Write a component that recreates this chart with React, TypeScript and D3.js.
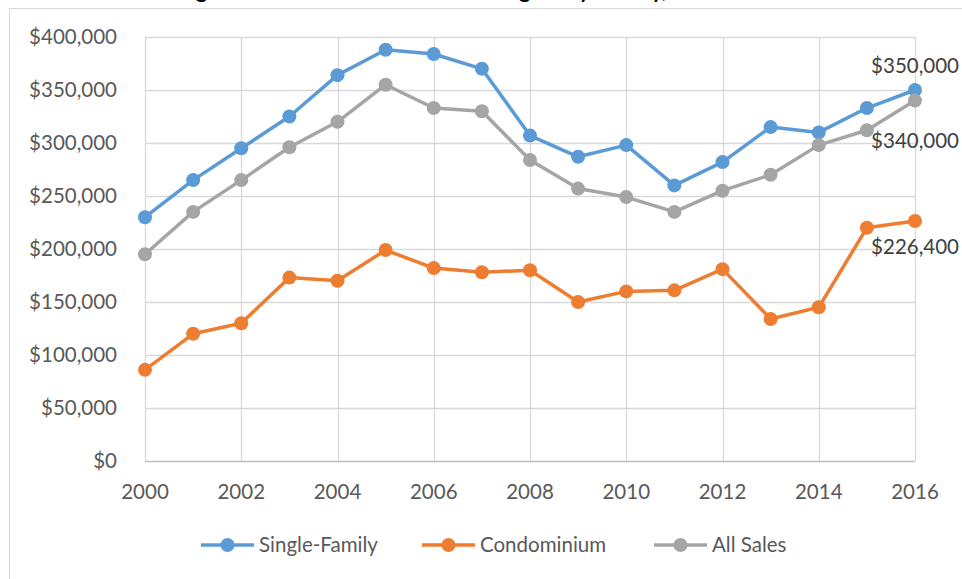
import React, { useEffect, useRef } from 'react';
import * as d3 from 'd3';

const years = [2000, 2001, 2002, 2003, 2004, 2005, 2006, 2007, 2008, 2009, 2010, 2011, 2012, 2013, 2014, 2015, 2016];
const singleFamily = [230000, 265000, 295000, 325000, 364000, 388000, 384000, 370000, 307000, 287000, 298000, 260000, 282000, 315000, 310000, 333000, 350000];
const condominium = [86000, 120000, 130000, 173000, 170000, 199000, 182000, 178000, 180000, 150000, 160000, 161000, 181000, 134000, 145000, 220000, 226400];
const allSales = [195000, 235000, 265000, 296000, 320000, 355000, 333000, 330000, 284000, 257000, 249000, 235000, 255000, 270000, 298000, 312000, 340000];

const seriesNames = ['Single-Family', 'Condominium', 'All Sales'];
const seriesColors = ['#5B9BD5', '#ED7D31', '#A5A5A5'];
const yTicks = [0, 50000, 100000, 150000, 200000, 250000, 300000, 350000, 400000];
const xTicks = [2000, 2002, 2004, 2006, 2008, 2010, 2012, 2014, 2016];
const title = 'Figure 3: Median Sales Price in Montgomery County, 2000-2016';

const W = 962;
const H = 579;
const FONT = 'Lato, "Open Sans", sans-serif';

const App: React.FC = () => {
  const ref = useRef<SVGSVGElement | null>(null);

  useEffect(() => {
    const svg = d3.select(ref.current);
    svg.selectAll('*').remove();

    const left = 145, right = 915, top = 37, bottom = 461;
    const x = d3.scaleLinear().domain([2000, 2016]).range([left, right]);
    const y = d3.scaleLinear().domain([0, 400000]).range([bottom, top]);
    const fmt = (v: number) => '$' + d3.format(',')(v);

    // outer chart border
    svg.append('rect')
      .attr('x', 9.5).attr('y', 8.5)
      .attr('width', W + 20).attr('height', H + 20)
      .attr('fill', 'white').attr('stroke', '#d9d9d9');

    // title, cut off at the top of the picture (only the descenders show)
    svg.append('text')
      .attr('x', 478).attr('y', -2)
      .attr('text-anchor', 'middle')
      .attr('font-family', FONT)
      .attr('font-weight', 'bold')
      .attr('font-size', 21)
      .attr('fill', '#000')
      .text(title);

    // gridlines
    svg.append('g').selectAll('line.h')
      .data(yTicks.filter(d => d > 0))
      .enter().append('line')
      .attr('x1', left).attr('x2', right)
      .attr('y1', d => Math.round(y(d)) + 0.5).attr('y2', d => Math.round(y(d)) + 0.5)
      .attr('stroke', '#d9d9d9').attr('stroke-width', 1.3);

    svg.append('g').selectAll('line.v')
      .data(xTicks)
      .enter().append('line')
      .attr('x1', d => Math.round(x(d)) + 0.5).attr('x2', d => Math.round(x(d)) + 0.5)
      .attr('y1', top).attr('y2', bottom)
      .attr('stroke', '#d9d9d9').attr('stroke-width', 1.3);

    // x axis line
    svg.append('line')
      .attr('x1', left).attr('x2', right)
      .attr('y1', bottom + 0.5).attr('y2', bottom + 0.5)
      .attr('stroke', '#bfbfbf').attr('stroke-width', 1.5);

    // y tick labels
    svg.append('g').selectAll('text')
      .data(yTicks)
      .enter().append('text')
      .attr('x', 117)
      .attr('y', d => y(d) + 7)
      .attr('text-anchor', 'end')
      .attr('font-family', FONT)
      .attr('font-size', 20.5)
      .attr('fill', '#595959')
      .text(d => fmt(d));

    // x tick labels
    svg.append('g').selectAll('text')
      .data(xTicks)
      .enter().append('text')
      .attr('x', d => x(d))
      .attr('y', 499)
      .attr('text-anchor', 'middle')
      .attr('font-family', FONT)
      .attr('font-size', 20.5)
      .attr('fill', '#595959')
      .text(d => String(d));

    const allSeries = [singleFamily, condominium, allSales];
    const line = d3.line<number>()
      .x((_, i) => x(years[i]))
      .y(d => y(d));

    allSeries.forEach((vals, si) => {
      svg.append('path')
        .datum(vals)
        .attr('d', line)
        .attr('fill', 'none')
        .attr('stroke', seriesColors[si])
        .attr('stroke-width', 3.5)
        .attr('stroke-linejoin', 'round');
      svg.append('g').selectAll('circle')
        .data(vals)
        .enter().append('circle')
        .attr('cx', (_, i) => x(years[i]))
        .attr('cy', d => y(d))
        .attr('r', 7)
        .attr('fill', seriesColors[si]);
    });

    // end labels
    const last = years.length - 1;
    const endLabels = [
      { v: singleFamily[last], dy: -17 },
      { v: allSales[last], dy: 47 },
      { v: condominium[last], dy: 33 },
    ];
    svg.append('g').selectAll('text')
      .data(endLabels)
      .enter().append('text')
      .attr('x', 959)
      .attr('y', d => y(d.v) + d.dy)
      .attr('text-anchor', 'end')
      .attr('font-family', FONT)
      .attr('font-size', 20.5)
      .attr('fill', '#404040')
      .text(d => fmt(d.v));

    // legend
    const legendX = [201, 422, 654];
    const legendY = 545;
    seriesNames.forEach((name, i) => {
      const g = svg.append('g').attr('transform', `translate(${legendX[i]},${legendY})`);
      g.append('line')
        .attr('x1', 0).attr('x2', 53)
        .attr('y1', 0).attr('y2', 0)
        .attr('stroke', seriesColors[i]).attr('stroke-width', 3.5);
      g.append('circle').attr('cx', 26.5).attr('cy', 0).attr('r', 7).attr('fill', seriesColors[i]);
      g.append('text')
        .attr('x', 58).attr('y', 7)
        .attr('font-family', FONT)
        .attr('font-size', 20.5)
        .attr('fill', '#595959')
        .text(name);
    });
  }, []);

  return (
    <svg
      ref={ref}
      width={W}
      height={H}
      style={{ position: 'absolute', left: 0, top: 0, background: 'white' }}
    />
  );
};

export default App;
